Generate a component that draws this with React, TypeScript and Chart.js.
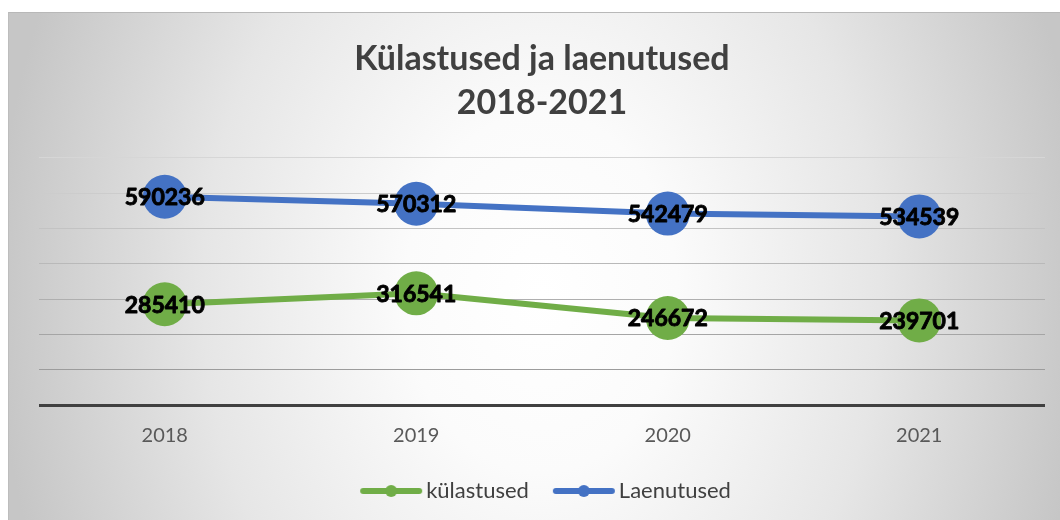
import React, { useEffect, useRef } from "react";
import { Chart, registerables } from "chart.js";

Chart.register(...registerables);

const years: string[] = ["2018", "2019", "2020", "2021"];
const kulastused: number[] = [285410, 316541, 246672, 239701];
const laenutused: number[] = [590236, 570312, 542479, 534539];
const seriesNames: string[] = ["külastused", "Laenutused"];
const titleLines: string[] = ["Külastused ja laenutused", "2018-2021"];
const yMin = 0;
const yMax = 700000;
const yStep = 100000;

const GREEN = "#70AD47";
const BLUE = "#4472C4";
const FONT = "Lato";

function legendIcon(color: string): HTMLCanvasElement {
  const c = document.createElement("canvas");
  c.width = 64;
  c.height = 14;
  const ctx = c.getContext("2d")!;
  ctx.strokeStyle = color;
  ctx.lineWidth = 6;
  ctx.lineCap = "round";
  ctx.beginPath();
  ctx.moveTo(4, 7);
  ctx.lineTo(60, 7);
  ctx.stroke();
  ctx.fillStyle = color;
  ctx.beginPath();
  ctx.arc(32, 7, 6, 0, Math.PI * 2);
  ctx.fill();
  return c;
}

const dataLabels = {
  id: "dataLabels",
  afterDatasetsDraw(chart: any) {
    const ctx = chart.ctx;
    ctx.save();
    ctx.font = `bold 23px ${FONT}`;
    ctx.fillStyle = "#000000";
    ctx.strokeStyle = "#000000";
    ctx.lineWidth = 0.9;
    ctx.lineJoin = "round";
    ctx.textAlign = "center";
    ctx.textBaseline = "middle";
    chart.data.datasets.forEach((ds: any, i: number) => {
      chart.getDatasetMeta(i).data.forEach((pt: any, j: number) => {
        const s = String(ds.data[j]);
        ctx.fillText(s, pt.x, pt.y + 1);
        ctx.strokeText(s, pt.x, pt.y + 1);
      });
    });
    ctx.restore();
  },
};

const legendShift = {
  id: "legendShift",
  afterLayout(chart: any) {
    const lg = chart.legend;
    if (lg) {
      lg.left += 7;
      lg.right += 7;
    }
  },
};

function gridColor(ctx: any): string {
  const v = ctx.tick ? ctx.tick.value : 1;
  if (v === 0) return "#404040";
  const t = v / yMax;
  const lo = 0x92;
  const hi = 0xd6;
  const c = Math.round(lo + (hi - lo) * t);
  const h = c.toString(16).padStart(2, "0");
  return `#${h}${h}${h}`;
}

export default function App() {
  const ref = useRef<HTMLCanvasElement | null>(null);

  useEffect(() => {
    if (!ref.current) return;
    const colors = [GREEN, BLUE];
    const chart = new Chart(ref.current, {
      type: "line",
      data: {
        labels: years,
        datasets: [
          {
            label: seriesNames[0],
            data: kulastused,
            borderColor: GREEN,
            backgroundColor: GREEN,
            borderWidth: 6,
            pointRadius: 22,
            pointHoverRadius: 22,
            pointBackgroundColor: GREEN,
            pointBorderWidth: 0,
            tension: 0,
          },
          {
            label: seriesNames[1],
            data: laenutused,
            borderColor: BLUE,
            backgroundColor: BLUE,
            borderWidth: 6,
            pointRadius: 22,
            pointHoverRadius: 22,
            pointBackgroundColor: BLUE,
            pointBorderWidth: 0,
            tension: 0,
          },
        ],
      },
      options: {
        animation: false,
        responsive: false,
        maintainAspectRatio: false,
        events: [],
        layout: { autoPadding: false, padding: { left: 30, right: 15, top: 0, bottom: 8 } },
        plugins: {
          tooltip: { enabled: false },
          title: {
            display: true,
            text: titleLines,
            color: "#404040",
            font: { family: FONT, size: 34, weight: "bold", lineHeight: 1.294 },
            padding: { top: 24, bottom: 33 },
          },
          legend: {
            display: true,
            position: "bottom",
            labels: {
              usePointStyle: true,
              pointStyleWidth: 48,
              color: "#404040",
              font: { family: FONT, size: 22 },
              padding: 31,
              generateLabels: (ch: any) =>
                ch.data.datasets.map((ds: any, i: number) => ({
                  text: ds.label,
                  pointStyle: legendIcon(colors[i]),
                  fillStyle: colors[i],
                  strokeStyle: colors[i],
                  lineWidth: 0,
                  fontColor: "#404040",
                  hidden: false,
                  datasetIndex: i,
                })),
            },
          },
        },
        scales: {
          x: {
            offset: true,
            grid: { display: false, drawTicks: false },
            border: { display: false },
            ticks: {
              color: "#595959",
              font: { family: FONT, size: 20 },
              padding: 19,
            },
            afterFit: (scale: any) => {
              scale.height = 44;
            },
          },
          y: {
            min: yMin,
            max: yMax,
            grid: {
              color: gridColor,
              lineWidth: (ctx: any) => (ctx.tick && ctx.tick.value === 0 ? 3 : 1),
              drawTicks: false,
            },
            border: { display: false },
            ticks: { display: false, stepSize: yStep },
          },
        },
      },
      plugins: [dataLabels, legendShift],
    } as any);
    return () => chart.destroy();
  }, []);

  return (
    <div
      style={{
        position: "fixed",
        left: 8,
        top: 12,
        width: 1052,
        height: 508,
        boxSizing: "border-box",
        borderTop: "1px solid #b8b8b8",
        borderLeft: "1px solid #bdbdbd",
        background:
          "radial-gradient(ellipse 545px 720px at 532px 280px, #ffffff 0%, #fbfbfb 25%, #e6e6e6 62%, #c6c6c6 100%)",
      }}
    >
      <canvas
        ref={ref}
        width={1051}
        height={507}
        style={{ display: "block", width: 1051, height: 507 }}
      />
    </div>
  );
}
